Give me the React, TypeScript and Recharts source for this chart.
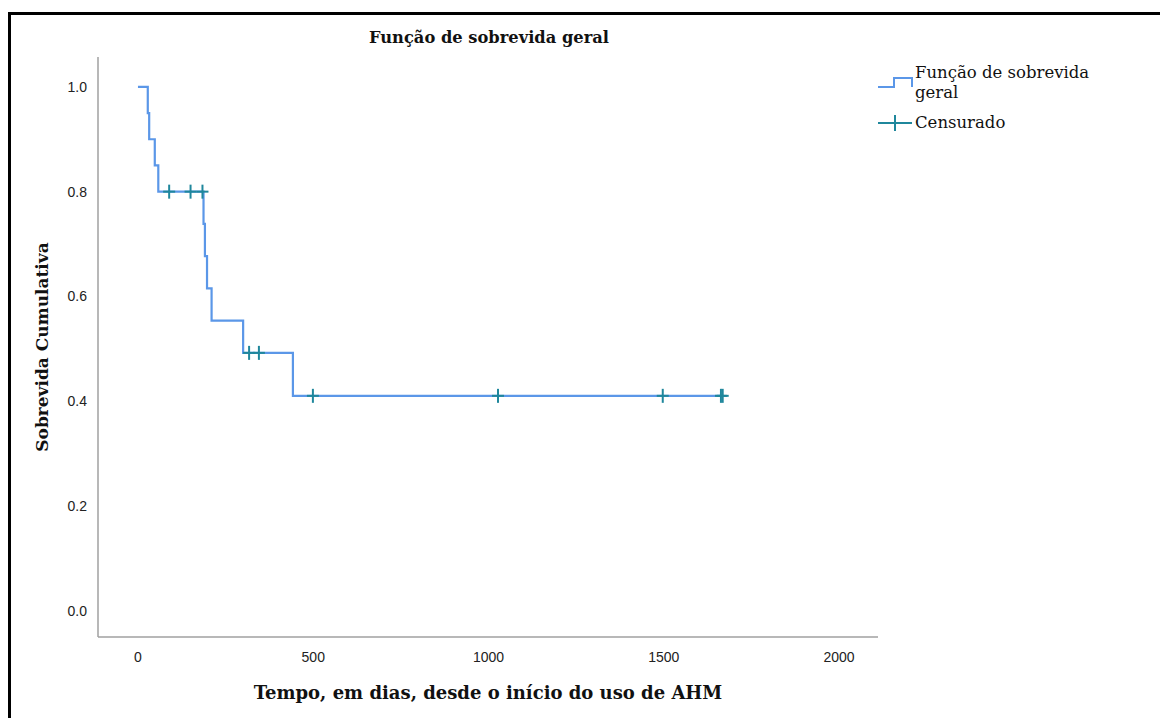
import React from "react";
import {
  ComposedChart,
  Line,
  Scatter,
  XAxis,
  YAxis,
  Legend,
} from "recharts";

// Kaplan-Meier steps (days, cumulative survival)
const stepTimes = [0, 28, 32, 48, 58, 187, 191, 197, 210, 300, 442, 1670];
const stepSurvival = [1, 0.95, 0.9, 0.85, 0.8, 0.7385, 0.6769, 0.6154, 0.5538, 0.4923, 0.4103, 0.4103];

// censored observations
const censorTimes = [89, 150, 184, 317, 345, 499, 1027, 1497, 1663, 1668];
const censorSurvival = [0.8, 0.8, 0.8, 0.4923, 0.4923, 0.4103, 0.4103, 0.4103, 0.4103, 0.4103];

const xTicks = [0, 500, 1000, 1500, 2000];
const yTicks = [0, 0.2, 0.4, 0.6, 0.8, 1.0];

const LINE_COLOR = "#5b97e8";
const CENSOR_COLOR = "#1f879c";
const SERIF = "'DejaVu Serif', serif";
const SANS = "'Liberation Sans', Arial, sans-serif";

const curve = stepTimes.map((t, i) => ({ t, s: stepSurvival[i] }));
const censored = censorTimes.map((t, i) => ({ t, s: censorSurvival[i] }));

function Cross(props: any) {
  const { cx, cy } = props;
  if (cx == null || cy == null) return null;
  return (
    <g stroke={CENSOR_COLOR} strokeWidth={2}>
      <line x1={cx - 6} x2={cx + 6} y1={cy} y2={cy} />
      <line x1={cx} x2={cx} y1={cy - 7} y2={cy + 7} />
    </g>
  );
}

function KmLegend() {
  const text: React.CSSProperties = {
    fontFamily: SERIF,
    fontSize: 16.5,
    color: "#111",
    lineHeight: "20px",
  };
  return (
    <div style={{ width: 280 }}>
      <div style={{ display: "flex", alignItems: "flex-start" }}>
        <svg width={38} height={40} style={{ flex: "none" }}>
          <polyline
            points="1,25 17,25 17,16 35,16 35,25"
            fill="none"
            stroke={LINE_COLOR}
            strokeWidth={2}
          />
        </svg>
        <div style={{ ...text, paddingTop: 1 }}>
          Função de sobrevida
          <br />
          geral
        </div>
      </div>
      <div style={{ display: "flex", alignItems: "center", marginTop: 10 }}>
        <svg width={38} height={20} style={{ flex: "none" }}>
          <line x1={1} x2={35} y1={10} y2={10} stroke={CENSOR_COLOR} strokeWidth={2} />
          <line x1={18} x2={18} y1={2} y2={18} stroke={CENSOR_COLOR} strokeWidth={2} />
        </svg>
        <div style={text}>Censurado</div>
      </div>
    </div>
  );
}

export default function App() {
  return (
    <div style={{ position: "absolute", left: 0, top: 0, width: 1160, height: 718, background: "#fff", overflow: "hidden" }}>
      <div
        style={{
          position: "absolute",
          left: 8,
          top: 12,
          width: 1200,
          height: 800,
          borderTop: "3px solid #000",
          borderLeft: "3px solid #000",
        }}
      />
      <div
        style={{
          position: "absolute",
          left: 98,
          width: 782,
          top: 28,
          textAlign: "center",
          fontFamily: SERIF,
          fontWeight: "bold",
          fontSize: 16.3,
          color: "#111",
        }}
      >
        Função de sobrevida geral
      </div>
      <ComposedChart
        width={1160}
        height={718}
        margin={{ top: 57, right: 282, bottom: 51, left: 48 }}
        style={{ position: "absolute", left: 0, top: 0 }}
      >
        <XAxis
          type="number"
          dataKey="t"
          domain={[-114, 2111]}
          ticks={xTicks}
          allowDataOverflow
          height={30}
          tickLine={false}
          tickMargin={9}
          stroke="#a0a0a0"
          strokeWidth={1.5}
          tick={{ fontFamily: SANS, fontSize: 14, fill: "#222" }}
          label={{
            value: "Tempo, em dias, desde o início do uso de AHM",
            position: "bottom",
            offset: 19,
            style: { fontFamily: SERIF, fontWeight: "bold", fontSize: 18, fill: "#111" },
          }}
        />
        <YAxis
          type="number"
          dataKey="s"
          domain={[-0.05, 1.057]}
          ticks={yTicks}
          allowDataOverflow
          width={50}
          tickLine={false}
          tickMargin={5}
          stroke="#a0a0a0"
          strokeWidth={1.5}
          tickFormatter={(v: number) => v.toFixed(1)}
          tick={{ fontFamily: SANS, fontSize: 14, fill: "#222" }}
          label={{
            value: "Sobrevida Cumulativa",
            angle: -90,
            position: "left",
            offset: 6,
            style: { textAnchor: "middle", fontFamily: SERIF, fontWeight: "bold", fontSize: 17, fill: "#111" },
          }}
        />
        <Line
          data={curve}
          dataKey="s"
          type="stepAfter"
          stroke={LINE_COLOR}
          strokeWidth={2.2}
          dot={false}
          activeDot={false}
          isAnimationActive={false}
          name="Função de sobrevida geral"
        />
        <Scatter
          data={censored}
          dataKey="s"
          shape={Cross}
          isAnimationActive={false}
          name="Censurado"
        />
        <Legend
          layout="vertical"
          align="center"
          verticalAlign="middle"
          content={() => <KmLegend />}
          wrapperStyle={{ left: 877, top: 62, width: 280 }}
        />
      </ComposedChart>
    </div>
  );
}
